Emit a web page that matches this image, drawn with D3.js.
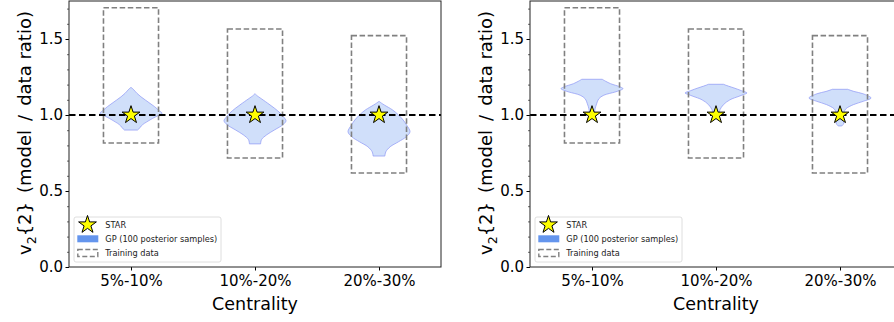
<!DOCTYPE html>
<html>
<head>
<meta charset="utf-8">
<script src="https://cdn.jsdelivr.net/npm/d3@7"></script>
<style>
  body { margin: 0; background: #fff; }
  svg { display: block; font-family: "DejaVu Sans", sans-serif; }
</style>
</head>
<body>
<svg id="chart" width="894" height="322"></svg>
<script>
// categories and values
const centralities = ["5%-10%", "10%-20%", "20%-30%"];
const starRatio = [1.0, 1.0, 1.0];
const trainingLow = [0.816, 0.717, 0.618];
const trainingHigh = [1.706, 1.566, 1.522];
const yTicks = [0.0, 0.5, 1.0, 1.5];
const yMinorStep = 0.1;
const yMax = 1.75;

// violin profiles: [ratio, relative half width]
const violinsLeft = [
  [[1.182, 0], [1.17, 0.07], [1.143, 0.19], [1.12, 0.32], [1.099, 0.46], [1.077, 0.61],
   [1.055, 0.76], [1.032, 0.89], [1.011, 1.0], [0.995, 0.86], [0.978, 0.70], [0.96, 0.55],
   [0.945, 0.43], [0.928, 0.33], [0.912, 0.27], [0.901, 0.21]],
  [[1.14, 0], [1.125, 0.08], [1.112, 0.17], [1.079, 0.40], [1.046, 0.62], [1.013, 0.81],
   [0.985, 0.93], [0.962, 1.0], [0.936, 0.90], [0.903, 0.64], [0.870, 0.38], [0.838, 0.21],
   [0.81, 0.18]],
  [[1.09, 0], [1.078, 0.08], [1.066, 0.17], [1.033, 0.44], [1.0, 0.63], [0.967, 0.78],
   [0.934, 0.89], [0.89, 1.0], [0.857, 0.88], [0.824, 0.63], [0.791, 0.36], [0.758, 0.22],
   [0.73, 0.19]]
];
const violinsRight = [
  [[1.235, 0.33], [1.222, 0.44], [1.206, 0.6], [1.184, 0.92], [1.173, 1.0], [1.162, 0.9],
   [1.151, 0.74], [1.13, 0.38], [1.107, 0.22], [1.074, 0.15], [1.041, 0.1], [1.01, 0.08]],
  [[1.202, 0.24], [1.19, 0.4], [1.178, 0.58], [1.16, 0.82], [1.145, 1.0], [1.134, 0.88],
   [1.123, 0.74], [1.1, 0.45], [1.068, 0.24], [1.035, 0.13], [1.01, 0.1]],
  [[1.169, 0.25], [1.155, 0.45], [1.14, 0.74], [1.112, 1.0], [1.09, 0.75], [1.068, 0.43],
   [1.041, 0.19], [1.02, 0.13], [1.0, 0.1], [0.975, 0.12], [0.955, 0.13], [0.94, 0.11],
   [0.928, 0.06]]
];

const svg = d3.select("#chart");
const axTop = 1, axBottom = 267, axWidth = 372;
const violinHalf = 0.25;

function drawPanel(left, violins) {
  const g = svg.append("g");
  const x = d3.scaleLinear().domain([-0.5, 2.5]).range([left, left + axWidth]);
  const y = d3.scaleLinear().domain([0, yMax]).range([axBottom, axTop]);
  const w = d3.scaleLinear().domain([0, 1]).range([0, x(violinHalf) - x(0)]);

  // violins
  violins.forEach((prof, i) => {
    const area = d3.area()
      .curve(d3.curveCatmullRom.alpha(0.5))
      .y(d => y(d[0]))
      .x0(d => x(i) - w(d[1]))
      .x1(d => x(i) + w(d[1]));
    g.append("path")
      .attr("d", area(prof))
      .attr("fill", "rgb(100,149,237)")
      .attr("fill-opacity", 0.3)
      .attr("stroke", "rgb(140,150,245)")
      .attr("stroke-opacity", 0.7)
      .attr("stroke-width", 1);
  });

  // training data boxes
  centralities.forEach((c, i) => {
    g.append("rect")
      .attr("x", x(i - 0.222))
      .attr("y", y(trainingHigh[i]))
      .attr("width", x(0.222) - x(-0.222))
      .attr("height", y(trainingLow[i]) - y(trainingHigh[i]))
      .attr("fill", "none")
      .attr("stroke", "#808080")
      .attr("stroke-width", 1.6)
      .attr("stroke-dasharray", "5.5,2.6");
  });

  // reference line
  g.append("line")
    .attr("x1", left).attr("x2", left + axWidth)
    .attr("y1", y(1)).attr("y2", y(1))
    .attr("stroke", "#000")
    .attr("stroke-width", 1.8)
    .attr("stroke-dasharray", "6.5,3.5");

  // STAR points
  const star = d3.symbol().type(d3.symbolStar).size(98);
  g.selectAll(".star")
    .data(starRatio)
    .enter()
    .append("path")
    .attr("class", "star")
    .attr("d", star)
    .attr("transform", (d, i) => `translate(${x(i)},${y(d)})`)
    .attr("fill", "#ffff00")
    .attr("stroke", "#000")
    .attr("stroke-width", 1);

  // axes
  const yAxis = d3.axisLeft(y).tickValues(yTicks).tickFormat(d3.format(".1f"))
    .tickSize(3.5).tickPadding(2.5).tickSizeOuter(0);
  const gy = g.append("g").attr("transform", `translate(${left},0)`).call(yAxis);
  gy.select(".domain").remove();
  gy.selectAll("text").attr("font-size", 15).attr("font-family", "DejaVu Sans").attr("fill", "#000");

  const minor = d3.range(0, yMax, yMinorStep).filter(v => yTicks.every(t => Math.abs(t - v) > 1e-6));
  const gm = g.append("g").attr("transform", `translate(${left},0)`)
    .call(d3.axisLeft(y).tickValues(minor).tickFormat("").tickSize(2).tickSizeOuter(0));
  gm.select(".domain").remove();
  gm.selectAll("line").attr("stroke-width", 0.6);

  const xAxis = d3.axisBottom(x).tickValues([0, 1, 2]).tickFormat(i => centralities[i])
    .tickSize(3.5).tickPadding(4.5).tickSizeOuter(0);
  const gx = g.append("g").attr("transform", `translate(0,${axBottom})`).call(xAxis);
  gx.select(".domain").remove();
  gx.selectAll("text").attr("font-size", 15).attr("font-family", "DejaVu Sans").attr("fill", "#000");

  // frame
  g.append("rect")
    .attr("x", left).attr("y", axTop)
    .attr("width", axWidth).attr("height", axBottom - axTop)
    .attr("fill", "none")
    .attr("stroke", "#222")
    .attr("stroke-width", 1);

  // axis labels
  g.append("text")
    .attr("x", left + axWidth / 2)
    .attr("y", 310)
    .attr("text-anchor", "middle")
    .attr("font-size", 17.5)
    .text("Centrality");

  const yl = g.append("text")
    .attr("transform", `translate(${left - 38},133) rotate(-90)`)
    .attr("text-anchor", "middle")
    .attr("font-size", 18);
  yl.append("tspan").text("v");
  yl.append("tspan").attr("dy", 5).attr("font-size", 12.5).text("2");
  yl.append("tspan").attr("dy", -5).text("{2}\u2002(model\u2002/\u2002data ratio)");

  // legend
  const lg = g.append("g").attr("transform", `translate(${left + 5},217)`);
  lg.append("rect")
    .attr("width", 147).attr("height", 45).attr("rx", 2)
    .attr("fill", "#fff").attr("fill-opacity", 0.8)
    .attr("stroke", "#d6d6d6").attr("stroke-width", 0.8);
  lg.append("path")
    .attr("d", star)
    .attr("transform", "translate(13.5,7.8)")
    .attr("fill", "#ffff00").attr("stroke", "#000").attr("stroke-width", 1);
  lg.append("rect")
    .attr("x", 3.3).attr("y", 18.3).attr("width", 21).attr("height", 7)
    .attr("fill", "rgb(100,149,237)");
  lg.append("rect")
    .attr("x", 3.8).attr("y", 32.5).attr("width", 20).attr("height", 7)
    .attr("fill", "none").attr("stroke", "#808080").attr("stroke-width", 1.4)
    .attr("stroke-dasharray", "5,2.5");
  const labels = ["STAR", "GP (100 posterior samples)", "Training data"];
  lg.selectAll(".lt")
    .data(labels)
    .enter()
    .append("text")
    .attr("x", 31.3)
    .attr("y", (d, i) => 7.8 + i * 14.2)
    .attr("dy", "0.35em")
    .attr("font-size", 8.2)
    .attr("fill", "#222")
    .text(d => d);
}

drawPanel(69, violinsLeft);
drawPanel(530, violinsRight);
</script>
</body>
</html>
